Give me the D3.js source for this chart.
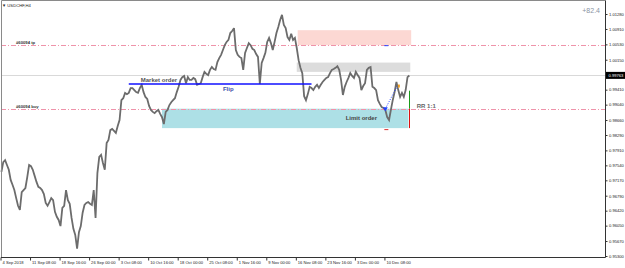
<!DOCTYPE html>
<html>
<head>
<meta charset="utf-8">
<script src="https://cdn.jsdelivr.net/npm/d3@7/dist/d3.min.js"></script>
<style>
    html, body { margin: 0; padding: 0; background: #fff; }
    svg { display: block; }
    text { font-family: "Liberation Sans", Arial, sans-serif; }
</style>
</head>
<body>
<div id="chart"></div>
<script>
"use strict";

const symbolTitle = "\u25BC USDCHF,H4";
const profitText = "+82.4";

// H4 bar index of each time label, counted from 4 Sep 2018 00:00
const dateTickBars = [0, 32, 64, 96, 128, 160, 192, 224, 256, 288, 320, 352, 384, 416];
const dateTickLabels = ["4 Sep 2018", "11 Sep 08:00", "18 Sep 16:00", "26 Sep 00:00", "3 Oct 08:00",
    "10 Oct 16:00", "18 Oct 00:00", "25 Oct 08:00", "1 Nov 16:00", "9 Nov 00:00", "16 Nov 08:00",
    "23 Nov 16:00", "3 Dec 00:00", "10 Dec 08:00"];

const priceTicks = [1.0128, 1.0091, 1.0053, 1.0015, 0.9978, 0.9941, 0.9904, 0.9866, 0.9829,
    0.9791, 0.9754, 0.9717, 0.9679, 0.9642, 0.9605, 0.9567, 0.9530];

// close every 2 bars (8 hours), first one at bar 1
const closes = [
    0.9738, 0.9762, 0.9767, 0.9755, 0.9743, 0.9718, 0.9706, 0.9693, 0.9673, 0.9654,
    0.9644, 0.9688, 0.9693, 0.9698, 0.9725, 0.9755, 0.9752, 0.9743, 0.9728, 0.9713,
    0.9701, 0.9698, 0.9693, 0.9683, 0.9661, 0.9654, 0.9663, 0.9673, 0.9668, 0.9639,
    0.9627, 0.9619, 0.9604, 0.9649, 0.9654, 0.9693, 0.9668, 0.9659, 0.9624, 0.9597,
    0.9582, 0.9548, 0.9589, 0.9604, 0.9637, 0.9656, 0.9661, 0.9663, 0.9659, 0.9656,
    0.9693, 0.9624, 0.9735, 0.9775, 0.9780, 0.9760, 0.9743, 0.9809, 0.9817, 0.9841,
    0.9844, 0.9839, 0.9834, 0.9851, 0.9866, 0.9915, 0.9920, 0.9933, 0.9930, 0.9933,
    0.9945, 0.9945, 0.9940, 0.9935, 0.9933, 0.9945, 0.9953, 0.9935, 0.9923, 0.9918,
    0.9901, 0.9891, 0.9886, 0.9883, 0.9888, 0.9891, 0.9881, 0.9873, 0.9856, 0.9886,
    0.9891, 0.9903, 0.9910, 0.9915, 0.9920, 0.9935, 0.9948, 0.9965, 0.9972, 0.9975,
    0.9957, 0.9972, 0.9965, 0.9965, 0.9970, 0.9967, 0.9953, 0.9955, 0.9957, 0.9972,
    0.9985, 0.9980, 0.9977, 0.9990, 0.9997, 0.9992, 0.9990, 1.0009, 1.0019, 1.0027,
    1.0039, 1.0051, 1.0059, 1.0064, 1.0081, 1.0086, 1.0093, 1.0039, 1.0027, 1.0022,
    1.0019, 0.9990, 1.0032, 1.0044, 1.0056, 1.0051, 1.0042, 1.0039, 1.0029, 1.0022,
    0.9955, 1.0007, 1.0019, 1.0032, 1.0059, 1.0069, 1.0056, 1.0039, 1.0059, 1.0081,
    1.0096, 1.0113, 1.0126, 1.0101, 1.0093, 1.0071, 1.0064, 1.0079, 1.0064, 1.0069,
    1.0044, 1.0014, 0.9995, 0.9982, 0.9925, 0.9915, 0.9930, 0.9948, 0.9945, 0.9940,
    0.9948, 0.9953, 0.9945, 0.9953, 0.9960, 0.9965, 0.9970, 0.9972, 0.9982, 0.9990,
    0.9992, 0.9995, 0.9999, 0.9990, 0.9965, 0.9928, 0.9948, 0.9960, 0.9970, 0.9982,
    0.9975, 0.9970, 0.9985, 0.9977, 0.9970, 0.9940, 0.9950, 0.9957, 0.9990, 0.9995,
    0.9997, 0.9948, 0.9945, 0.9940, 0.9915, 0.9906, 0.9898, 0.9896, 0.9891, 0.9873,
    0.9866, 0.9891, 0.9915, 0.9935, 0.9960, 0.9940, 0.9923, 0.9933, 0.9923, 0.9940,
    0.9972, 0.9976
];
const closeFirstBar = 1;
const closeBarStep = 2;

const bidPrice = 0.99763;
const tpPrice = 1.0051;
const entryPrice = 0.9894;
const slPrice = 0.9846;
const rewardTopPrice = 0.99385;
const orderLabels = ["#60094 tp", "#60094 buy"];

// zones: [first bar, last bar, upper price, lower price]
const sellZone = [322, 445, 1.0088, 1.0051];
const flipZone = [321, 444, 1.0008, 0.9985];
const limitZone = [175, 442, 0.9894, 0.9846];

// market order / flip level
const marketBars = [139, 337];
const marketPrice = 0.9955;

// executed trade: open and current marker
const tradeBars = [417, 430];
const tradePrices = [0.9894, 0.9950];
const rrBar = 443;

(function () {
    const width = 625;
    const height = 268;
    const axisX = 605;
    const axisY = 257;

    const xScale = d3.scaleLinear().domain([0, 655]).range([0.5, axisX]);
    const yScale = d3.scaleLinear().domain([0.9530, 1.0128]).range([256, 14]);

    const svg = d3.select("#chart").append("svg")
        .attr("width", width)
        .attr("height", height);

    function zone(z, fill) {
        svg.append("rect")
            .attr("x", xScale(z[0]))
            .attr("y", yScale(z[2]))
            .attr("width", xScale(z[1]) - xScale(z[0]))
            .attr("height", yScale(z[3]) - yScale(z[2]))
            .attr("fill", fill);
    }

    zone(sellZone, "#fcd8d3");
    zone(flipZone, "#dcdcdc");
    zone(limitZone, "#ade0e6");

    // bid line
    svg.append("line")
        .attr("x1", 1).attr("x2", axisX)
        .attr("y1", Math.round(yScale(bidPrice)) + 0.5).attr("y2", Math.round(yScale(bidPrice)) + 0.5)
        .attr("stroke", "#d9d9d9");

    // order lines (tp and entry)
    [tpPrice, entryPrice].forEach((p, i) => {
        const y = Math.round(yScale(p)) + 0.5;
        svg.append("line")
            .attr("x1", 1).attr("x2", axisX)
            .attr("y1", y).attr("y2", y)
            .attr("stroke", "#ef93aa")
            .attr("stroke-dasharray", "5,2,1,2");
        svg.append("text")
            .attr("x", 16)
            .attr("y", y - 1.5)
            .attr("font-size", 4.2)
            .attr("font-weight", "bold")
            .attr("fill", "#333")
            .text(orderLabels[i]);
    });

    // price
    const line = d3.line()
        .x((d, i) => xScale(closeFirstBar + i * closeBarStep))
        .y(d => yScale(d));

    svg.append("path")
        .attr("d", line(closes))
        .attr("fill", "none")
        .attr("stroke", "#6c6c6c")
        .attr("stroke-width", 1.8)
        .attr("stroke-linejoin", "miter")
        .attr("stroke-miterlimit", 3);

    // market order level
    const my = yScale(marketPrice);
    svg.append("line")
        .attr("x1", xScale(marketBars[0])).attr("x2", xScale(marketBars[1]))
        .attr("y1", my).attr("y2", my)
        .attr("stroke", "#1010ff")
        .attr("stroke-width", 1.4);

    svg.append("text")
        .attr("x", xScale(152)).attr("y", my - 1.8)
        .attr("font-size", 6).attr("font-weight", "bold")
        .attr("fill", "#555")
        .text("Market order");

    svg.append("text")
        .attr("x", xScale(241)).attr("y", my + 6.5)
        .attr("font-size", 6).attr("font-weight", "bold")
        .attr("fill", "#4050a8")
        .text("Flip");

    svg.append("text")
        .attr("x", xScale(374)).attr("y", yScale(0.9870) + 2)
        .attr("font-size", 6).attr("font-weight", "bold")
        .attr("fill", "#454545")
        .text("Limit order");

    // risk / reward bar
    const rx = Math.round(xScale(rrBar)) + 0.5;
    svg.append("line")
        .attr("x1", rx).attr("x2", rx)
        .attr("y1", yScale(rewardTopPrice)).attr("y2", yScale(entryPrice))
        .attr("stroke", "#1a9a1a");
    svg.append("line")
        .attr("x1", rx).attr("x2", rx)
        .attr("y1", yScale(entryPrice)).attr("y2", yScale(slPrice))
        .attr("stroke", "#e01010");

    svg.append("text")
        .attr("x", xScale(451)).attr("y", yScale(entryPrice) - 0.5)
        .attr("font-size", 6).attr("font-weight", "bold")
        .attr("fill", "#666")
        .text("RR 1:1");

    // trade markers
    svg.append("line")
        .attr("x1", xScale(tradeBars[0])).attr("x2", xScale(tradeBars[1]))
        .attr("y1", yScale(tradePrices[0])).attr("y2", yScale(tradePrices[1]))
        .attr("stroke", "#2040ff")
        .attr("stroke-dasharray", "1,1.5");
    svg.append("path")
        .attr("d", d3.symbol(d3.symbolTriangle, 10)())
        .attr("transform", `translate(${xScale(tradeBars[0])},${yScale(tradePrices[0])}) rotate(180)`)
        .attr("fill", "#2040ff");
    svg.append("rect")
        .attr("x", xScale(tradeBars[1]) + 0.5).attr("y", yScale(tradePrices[1]) - 1.5)
        .attr("width", 2).attr("height", 3)
        .attr("fill", "#f0a020");
    svg.append("line")
        .attr("x1", xScale(tradeBars[0]) - 1).attr("x2", xScale(tradeBars[0]) + 3)
        .attr("y1", yScale(tpPrice) + 0.5).attr("y2", yScale(tpPrice) + 0.5)
        .attr("stroke", "#2040ff");
    svg.append("line")
        .attr("x1", xScale(tradeBars[0]) - 1).attr("x2", xScale(tradeBars[0]) + 3)
        .attr("y1", yScale(slPrice) + 1.5).attr("y2", yScale(slPrice) + 1.5)
        .attr("stroke", "#e03030");

    // frame
    svg.append("path")
        .attr("d", `M1.5,${axisY + 0.5}V0.5H${axisX + 0.5}`)
        .attr("fill", "none")
        .attr("stroke", "#8a8a8a");

    // axes
    const xAxis = d3.axisBottom(xScale)
        .tickValues(dateTickBars)
        .tickFormat((d, i) => dateTickLabels[i])
        .tickSize(3)
        .tickSizeOuter(0);

    const xg = svg.append("g")
        .attr("transform", `translate(0,${axisY + 0.5})`)
        .call(xAxis);
    xg.attr("font-size", 4.1).attr("font-family", null);
    xg.select(".domain").attr("stroke", "#333").attr("d", `M1,0H${axisX + 0.5}`);
    xg.selectAll(".tick line").attr("stroke", "#333");
    xg.selectAll(".tick text")
        .attr("text-anchor", "start")
        .attr("x", 1.5)
        .attr("y", 3.5)
        .attr("fill", "#222");

    const yAxis = d3.axisRight(yScale)
        .tickValues(priceTicks)
        .tickFormat(d3.format(".5f"))
        .tickSize(2)
        .tickPadding(1.5)
        .tickSizeOuter(0);

    const yg = svg.append("g")
        .attr("transform", `translate(${axisX + 0.5},0)`)
        .call(yAxis);
    yg.attr("font-size", 4.1).attr("font-family", null);
    yg.select(".domain").attr("stroke", "#333").attr("d", `M0,0.5V${axisY + 0.5}`);
    yg.selectAll(".tick line").attr("stroke", "#333");
    yg.selectAll(".tick text").attr("fill", "#222");

    // bid label
    const by = yScale(bidPrice);
    svg.append("rect")
        .attr("x", axisX + 1).attr("y", by - 3.5)
        .attr("width", width - axisX - 1).attr("height", 7)
        .attr("fill", "#000");
    svg.append("text")
        .attr("x", axisX + 3.5).attr("y", by + 1.5)
        .attr("font-size", 4.1)
        .attr("fill", "#fff")
        .text(d3.format(".5f")(bidPrice));

    // titles
    svg.append("text")
        .attr("x", 2).attr("y", 6.5)
        .attr("font-size", 4.2)
        .attr("fill", "#222")
        .text(symbolTitle);

    svg.append("text")
        .attr("x", 600).attr("y", 12.5)
        .attr("text-anchor", "end")
        .attr("font-size", 7)
        .attr("fill", "#8a93a3")
        .text(profitText);
}());
</script>
</body>
</html>
